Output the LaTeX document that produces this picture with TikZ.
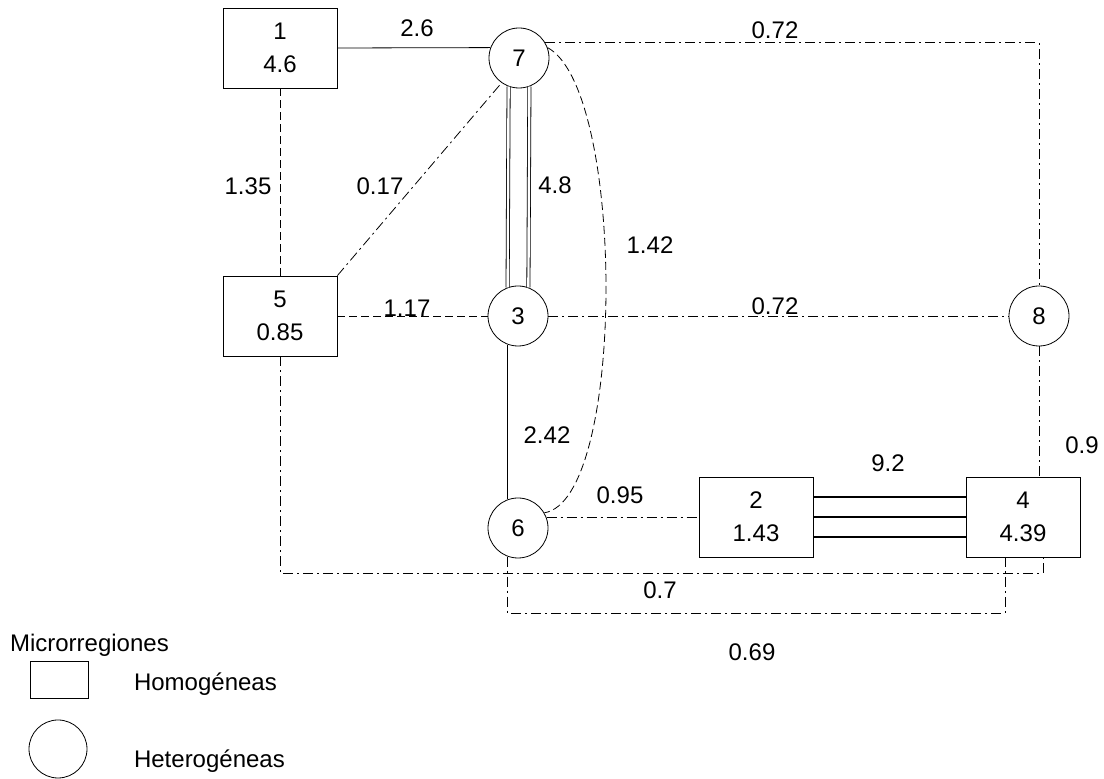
\documentclass[tikz,border=0pt]{standalone}
\usepackage{fontspec}
\setmainfont{Liberation Sans}

\begin{document}
\begin{tikzpicture}[x=0.5pt, y=-0.5pt,
            every node/.style={font=\fontsize{12}{16.5}\selectfont},
            homog/.style={draw, rectangle, minimum width=57pt, minimum height=40pt, align=center, inner sep=0pt},
            heterog/.style={draw, circle, minimum size=30pt, inner sep=0pt},
            dashdot/.style={dash pattern=on 5pt off 2pt on 1pt off 2pt},
            dashline/.style={dash pattern=on 4pt off 2pt},
            dbl/.style={double, double distance=1.2pt, line width=0.4pt}]

            \useasboundingbox (0,0) rectangle (1104,779);

            \node[homog] (n1) at (280,48) {1\\4.6};
            \node[homog] (n5) at (280,316) {5\\0.85};
            \node[homog] (n2) at (756,517) {2\\1.43};
            \node[homog] (n4) at (1023,517) {4\\4.39};
            \node[heterog] (n7) at (519,58) {7};
            \node[heterog] (n3) at (518,316) {3};
            \node[heterog] (n8) at (1039,316) {8};
            \node[heterog] (n6) at (518,528) {6};

            \coordinate (r54) at (0,573);
            \coordinate (r64) at (0,613);
            \coordinate (p4a) at ([xshift=10pt]n4.south);
            \coordinate (p4b) at ([xshift=-9pt]n4.south);
            \coordinate (p6) at (n6.250);

            \draw (n1.east) -- (n7.160);
            \draw[dashline] (n1) -- (n5);
            \draw[dashdot] (n5.north east) -- (n7.235);
            \draw[dashline] (n5) -- (n3);
            \draw[dashdot] (n7.30) -| (n8);
            \draw[dashdot] (n3) -- (n8);
            \draw[dashdot] (n8) -- (n8 |- n4.north);
            \draw[dbl] (n7.250) -- (n3.110);
            \draw[dbl] (n7.290) -- (n3.70);
            \draw (n3.250) -- (n6.110);
            \draw[dashline] (n7.20) .. controls (626,90) and (626,500) .. (n6.30);
            \draw[dashdot] (n6.20) -- (n6.20 -| n2.west);
            \foreach \dy in {-10,0,10}
                \draw[line width=1.2pt] ([yshift=\dy pt]n2.east) -- ([yshift=\dy pt]n4.west);
            \draw[dashdot] (n5.south) |- (p4a |- r54) -- (p4a);
            \draw[dashdot] (p6) -- (p6 |- r64) -| (p4b);

            \node (l26) at (417,28) {2.6};
            \node (l72a) at (775,30) {0.72};
            \node (l135) at (248,186) {1.35};
            \node (l017) at (380,186) {0.17};
            \node (l48) at (555,185) {4.8};
            \node (l142) at (650,245) {1.42};
            \node (l117) at (407,308) {1.17};
            \node (l72b) at (775,306) {0.72};
            \node (l242) at (547,435) {2.42};
            \node (l095) at (620,495) {0.95};
            \node (l92) at (888,463) {9.2};
            \node (l09) at (1082,445) {0.9};
            \node (l07) at (660,590) {0.7};
            \node (l069) at (752,652) {0.69};

            \node[anchor=west] (ltitle) at (3,645) {Microrregiones};
            \node[homog, minimum width=29pt, minimum height=18.5pt] (lbox) at (59,680) {};
            \node[anchor=west] (lhom) at (127,684) {Homogéneas};
            \node[heterog, minimum size=29pt] (lcirc) at (58,749) {};
            \node[anchor=west] (lhet) at (127,761) {Heterogéneas};
\end{tikzpicture}
\end{document}
